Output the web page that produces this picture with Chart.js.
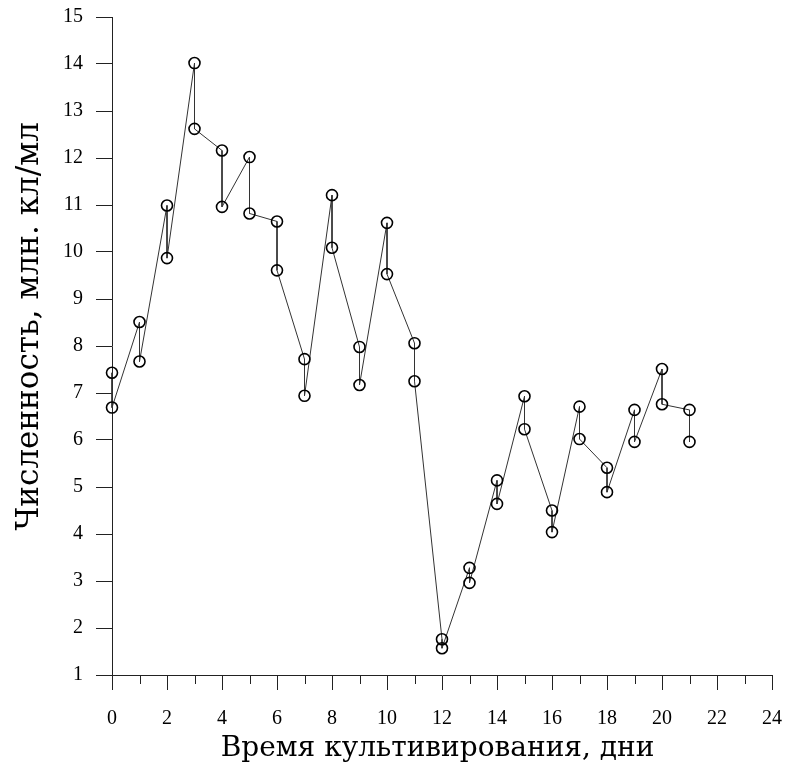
<!DOCTYPE html>
<html>
	<head>
		<meta charset="UTF-8">
		<title>Численность</title>
		<script src="https://cdn.jsdelivr.net/npm/chart.js@4.4.1/dist/chart.umd.min.js"></script>
		<style>
			html,body{margin:0;padding:0;background:#fff;}
			#wrap{width:787px;height:775px;}
		</style>
	</head>
	<body>
		<div id="wrap"><canvas id="myChart" width="787" height="775"></canvas></div>
	<script>
		// сутки культивирования
		var days=[0,1,2,3,4,5,6,7,8,9,10,11,12,13,14,15,16,17,18,19,20,21];
		// первое (верхнее) и второе (нижнее) измерение за сутки
		var firstCount=[7.43,8.51,10.99,14.02,12.16,12.02,10.65,7.72,11.21,7.98,10.62,8.06,1.76,3.28,5.14,6.93,4.50,6.71,5.41,6.64,7.51,6.64];
		var secondCount=[6.69,7.67,9.87,12.62,10.96,10.82,9.61,6.94,10.09,7.17,9.53,7.25,1.57,2.96,4.64,6.23,4.04,6.02,4.89,5.96,6.76,5.96];
		var xTicks=[0,2,4,6,8,10,12,14,16,18,20,22,24];
		var yTicks=[1,2,3,4,5,6,7,8,9,10,11,12,13,14,15];

		//点按顺序连线：先第一次，再第二次
		var points=[];
		for(var i=0;i<days.length;i++){
			points.push({x:days[i],y:firstCount[i]});
			points.push({x:days[i],y:secondCount[i]});
		}

		var serif="'Liberation Serif','DejaVu Serif',serif";
		var wideSerif="'DejaVu Serif','Liberation Serif',serif";

		//短刻度（奇数天）
		var minorTicks={
			id:'minorTicks',
			afterDraw:function(chart){
				var sx=chart.scales.x;
				var ctx=chart.ctx;
				ctx.save();
				ctx.strokeStyle='#222';
				ctx.lineWidth=1;
				for(var v=1;v<24;v+=2){
					var px=Math.round(sx.getPixelForValue(v))+0.5;
					ctx.beginPath();
					ctx.moveTo(px,sx.top);
					ctx.lineTo(px,sx.top+9);
					ctx.stroke();
				}
				ctx.restore();
			}
		};

		var ctx=document.getElementById('myChart').getContext('2d');
		var myChart=new Chart(ctx,{
			type:'line',
			data:{
				datasets:[{
					data:points,
					borderColor:'#333',
					borderWidth:1,
					pointRadius:5.5,
					pointBorderWidth:1.6,
					pointBorderColor:'#000',
					pointBackgroundColor:'rgba(0,0,0,0)',
					tension:0,
					clip:false
				}]
			},
			options:{
				responsive:false,
				animation:false,
				devicePixelRatio:1,
				layout:{padding:{left:0,top:17,right:15,bottom:0}},
				plugins:{legend:{display:false},tooltip:{enabled:false}},
				scales:{
					x:{
						type:'linear',
						min:0,max:24,
						afterFit:function(s){s.height=100;s.paddingLeft=0;s.paddingRight=0;},
						afterBuildTicks:function(s){s.ticks=xTicks.map(function(v){return {value:v};});},
						grid:{drawOnChartArea:false,tickLength:15,color:'#222'},
						border:{color:'#222',width:1},
						ticks:{color:'#000',padding:17,maxRotation:0,font:{family:serif,size:20}},
						title:{display:true,text:'Время культивирования, дни ',color:'#000',
							font:{family:wideSerif,size:28},padding:{top:0,bottom:9}}
					},
					y:{
						min:1,max:15,
						afterFit:function(s){s.width=112;s.paddingTop=0;s.paddingBottom=0;},
						afterBuildTicks:function(s){s.ticks=yTicks.map(function(v){return {value:v};});},
						grid:{drawOnChartArea:false,tickLength:16,color:'#222'},
						border:{color:'#222',width:1},
						ticks:{color:'#000',padding:13,font:{family:serif,size:20}},
						title:{display:true,text:'    Численность, млн. кл/мл',color:'#000',
							font:{family:wideSerif,size:31},padding:{top:11,bottom:0}}
					}
				}
			},
			plugins:[minorTicks]
		});
	</script>
	</body>
</html>
